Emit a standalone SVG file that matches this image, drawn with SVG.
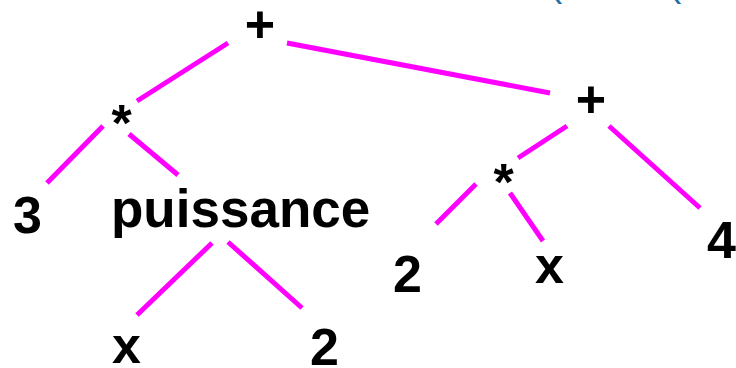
<svg xmlns="http://www.w3.org/2000/svg" width="736" height="368" viewBox="0 0 736 368">
<style>
.e{stroke:#ff00ff;stroke-width:5;stroke-linecap:butt;fill:none}
.t{font-family:"Liberation Sans",Arial,Helvetica,sans-serif;font-weight:bold;font-size:52px;fill:#000}
.b{font-family:"Liberation Sans",Arial,sans-serif;font-size:40px;fill:#1f6fa3}
</style>
<rect width="736" height="368" fill="#fff"/>
<g id="edges">
<line class="e" x1="228" y1="43" x2="137" y2="101"/>
<line class="e" x1="287" y1="43" x2="550" y2="93"/>
<line class="e" x1="103" y1="126" x2="47" y2="183"/>
<line class="e" x1="129" y1="134" x2="178" y2="175"/>
<line class="e" x1="212" y1="243" x2="137" y2="315"/>
<line class="e" x1="228" y1="242" x2="302" y2="308"/>
<line class="e" x1="567" y1="126" x2="518" y2="158"/>
<line class="e" x1="609" y1="126" x2="700" y2="208"/>
<line class="e" x1="476" y1="184" x2="436" y2="224"/>
<line class="e" x1="510" y1="193" x2="543" y2="241"/>
</g>
<g id="n-plus-root"><text class="t" x="260" y="42" text-anchor="middle">+</text></g>
<g id="n-mul-left"><text class="t" x="121.5" y="141" text-anchor="middle">*</text></g>
<g id="n-3"><text class="t" x="13" y="233">3</text></g>
<g id="n-puissance"><text class="t" x="111" y="227" style="font-size:53px">puissance</text></g>
<g id="n-x-bottom"><text class="t" x="112" y="363">x</text></g>
<g id="n-2-bottom"><text class="t" x="310" y="365">2</text></g>
<g id="n-plus-right"><text class="t" x="591" y="117" text-anchor="middle">+</text></g>
<g id="n-mul-right"><text class="t" x="503.5" y="200" text-anchor="middle">*</text></g>
<g id="n-2-right"><text class="t" x="393" y="292">2</text></g>
<g id="n-x-right"><text class="t" x="535" y="283">x</text></g>
<g id="n-4"><text class="t" x="707" y="258">4</text></g>
<text class="b" x="549" y="-4">(</text>
<text class="b" x="668" y="-4">(</text>
</svg>
